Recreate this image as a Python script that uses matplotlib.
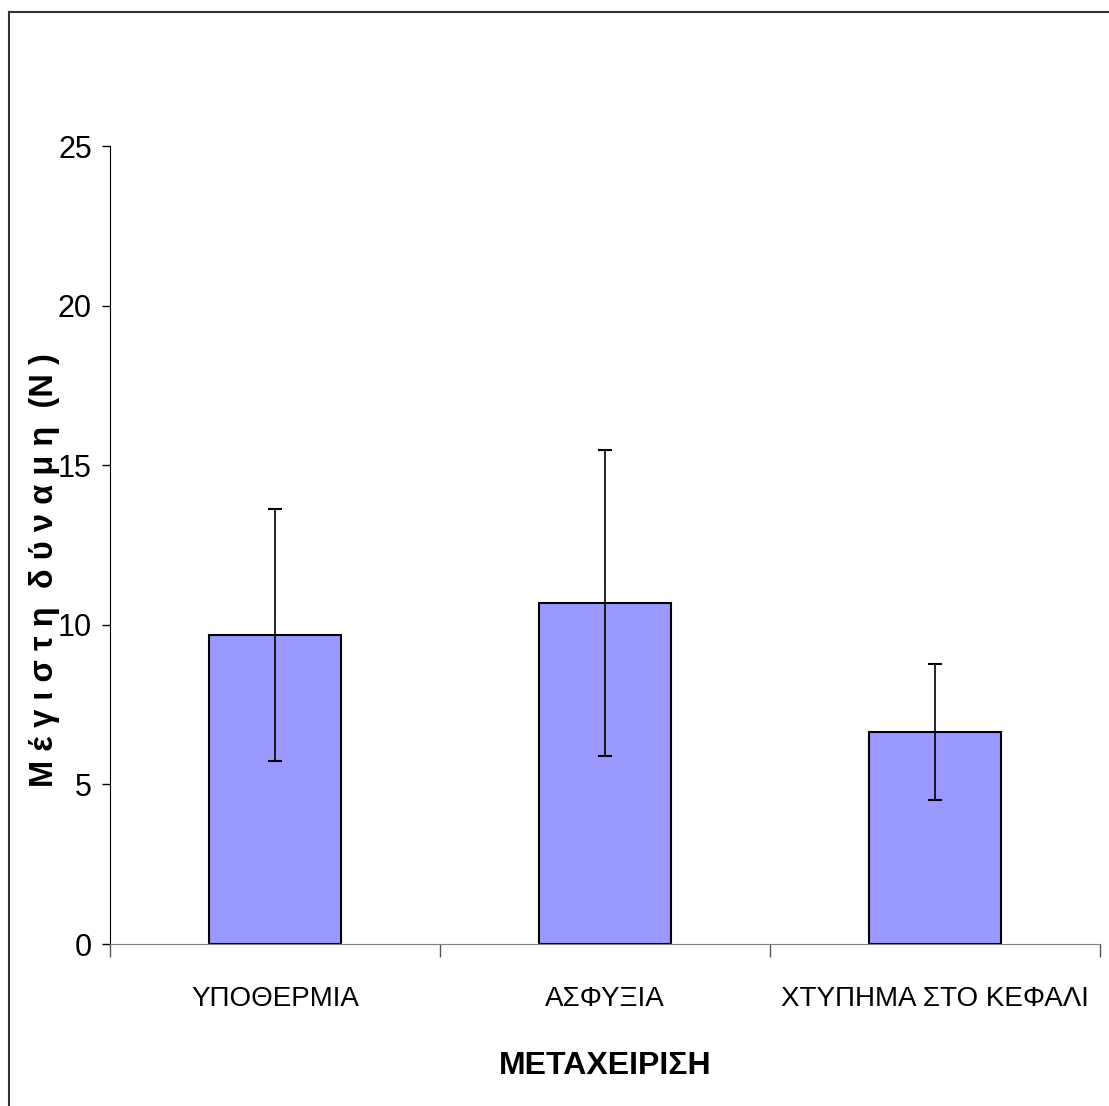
import matplotlib.pyplot as plt
from matplotlib.lines import Line2D
import numpy as np

# data
categories = ['ΥΠΟΘΕΡΜΙΑ', 'ΑΣΦΥΞΙΑ', 'ΧΤΥΠΗΜΑ ΣΤΟ ΚΕΦΑΛΙ']
means = [9.68, 10.68, 6.64]
errors = [3.95, 4.8, 2.12]
y_ticks = [0, 5, 10, 15, 20, 25]

plt.rcParams['font.family'] = ['Liberation Sans', 'DejaVu Sans']

fig = plt.figure(figsize=(11.09, 11.06), dpi=100)
ax = fig.add_axes([110 / 1109, 1 - 944 / 1106, 990 / 1109, 798 / 1106])

x = np.arange(len(categories))
ax.bar(x, means, width=0.4, color='#9999FF', edgecolor='black', linewidth=1.5,
       yerr=errors, capsize=5, error_kw=dict(ecolor='black', elinewidth=1.2, capthick=1.5))

ax.set_xlim(-0.5, 2.5)
ax.set_ylim(0, 25)
ax.set_yticks(y_ticks)
ax.set_yticklabels([str(t) for t in y_ticks], fontsize=22)
ax.tick_params(axis='y', length=6, width=1, pad=7, color='black')

ax.set_xticks(x)
ax.set_xticklabels(categories, fontsize=20)
ax.tick_params(axis='x', which='major', length=0, pad=30)
ax.set_xticks([-0.5, 0.5, 1.5, 2.5], minor=True)
ax.tick_params(axis='x', which='minor', length=9, width=1, color='#555555')

for s in ['top', 'right']:
    ax.spines[s].set_visible(False)
ax.spines['bottom'].set_color('#808080')
ax.spines['left'].set_color('black')

ax.set_ylabel('Μ έ γ ι σ τ η  δ ύ ν α μ η  (Ν )', fontsize=23.5, fontweight='bold')
ax.yaxis.set_label_coords((45 - 110) / 990, (944 - 570) / 798)
ax.set_xlabel('ΜΕΤΑΧΕΙΡΙΣΗ', fontsize=23, fontweight='bold')
ax.xaxis.set_label_coords(0.5, -(1066 - 944) / 798)
ax.xaxis.label.set_va('center')
ax.yaxis.label.set_va('center')

# partial outer frame (left and top edges only)
fig.add_artist(Line2D([9 / 1109, 9 / 1109], [0, 1 - 12 / 1106], transform=fig.transFigure,
                      color='#333333', linewidth=1.5))
fig.add_artist(Line2D([9 / 1109, 1], [1 - 12 / 1106, 1 - 12 / 1106], transform=fig.transFigure,
                      color='#333333', linewidth=1.5))

fig.savefig('out.png', dpi=100)
